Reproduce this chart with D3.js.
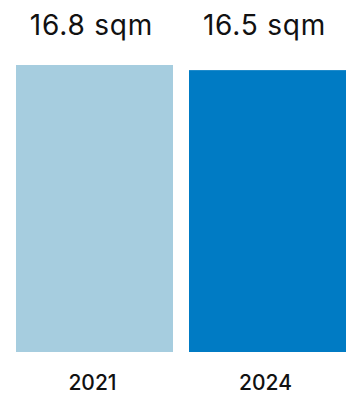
<!DOCTYPE html>
<meta charset="utf-8">
<style>
body { margin: 0; background: #fff; }
text { font-family: Inter, "Open Sans", sans-serif; fill: #111; }
</style>
<svg width="350" height="394"></svg>
<script src="https://d3js.org/d3.v7.min.js"></script>
<script>

var years = ["2021", "2024"];
var values = [16.8, 16.5];
var labels = ["16.8 sqm", "16.5 sqm"];
var colors = ["#a6cddf", "#007bc4"];

var svg = d3.select("svg");

var x = d3.scaleBand().domain(years).range([16, 346]).paddingInner(0.0925).paddingOuter(0),
    y = d3.scaleLinear().domain([0, 16.8]).range([352, 65]);

var data = years.map(function(d, i) { return {year: d, value: values[i], label: labels[i], color: colors[i]}; });

svg.selectAll(".bar")
  .data(data)
  .enter().append("rect")
    .attr("class", "bar")
    .attr("x", function(d) { return x(d.year); })
    .attr("y", function(d) { return y(d.value); })
    .attr("width", x.bandwidth())
    .attr("height", function(d) { return y(0) - y(d.value); })
    .attr("fill", function(d) { return d.color; });

// value labels above the bars
svg.selectAll(".value")
  .data(data)
  .enter().append("text")
    .attr("class", "value")
    .attr("x", function(d) { return x(d.year) + x.bandwidth() / 2 - 3; })
    .attr("y", 35)
    .attr("text-anchor", "middle")
    .style("font-size", "28px")
    .style("letter-spacing", "0.8px")
    .text(function(d) { return d.label; });

// year labels under the bars
svg.selectAll(".year")
  .data(data)
  .enter().append("text")
    .attr("class", "year")
    .attr("x", function(d) { return x(d.year) + x.bandwidth() / 2 - 2; })
    .attr("y", 390)
    .attr("text-anchor", "middle")
    .style("font-size", "21px")
    .style("font-weight", 500)
    .text(function(d) { return d.year; });

</script>
